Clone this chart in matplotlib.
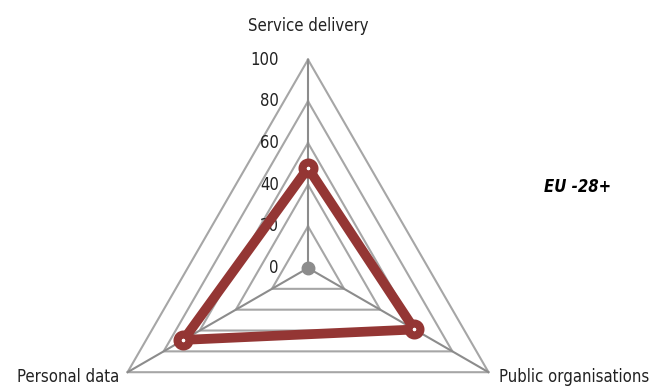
import numpy as np
import matplotlib
matplotlib.use("Agg")
from matplotlib import pyplot as plt

plt.rcParams['font.family'] = ['DejaVu Sans']
plt.rcParams['font.stretch'] = 'condensed'

categories = ["Service delivery", "Public organisations", "Personal data"]
values = [48, 59, 69]
ticks = [0, 20, 40, 60, 80, 100]
series_name = "EU -28+"

# angle of each axis, in degrees (top, lower right, lower left)
angles = np.deg2rad([90, -30, 210])

def xy(r):
    r = np.asarray(r, dtype=float)
    return r * np.cos(angles), r * np.sin(angles)

fig = plt.figure(figsize=(6.5, 3.87), dpi=100)
ax = fig.add_axes([0, 0, 1, 1])
ax.set_xlim(-147.8, 164.1)
ax.set_ylim(-57.1, 128.6)
ax.axis('off')

# grid triangles
for t in ticks[1:]:
    gx, gy = xy([t] * 3)
    ax.plot(np.append(gx, gx[0]), np.append(gy, gy[0]), color='#a6a6a6', lw=1.5, zorder=1)

# spokes
vx, vy = xy([100] * 3)
for i in range(3):
    ax.plot([0, vx[i]], [0, vy[i]], color='#8c8c8c', lw=1.5, zorder=2)
ax.plot([0], [0], 'o', color='#8c8c8c', ms=9, zorder=2)

txt = dict(fontsize=12, color='#222222', fontstretch='condensed')

# tick labels
for t in ticks:
    ax.text(-14, t, str(t), ha='right', va='center', **txt)

# category labels
ax.text(0, 116, categories[0], ha='center', va='center', **txt)
ax.text(vx[1] + 5, vy[1] - 2.5, categories[1], ha='left', va='center', **txt)
ax.text(vx[2] - 4, vy[2] - 2.5, categories[2], ha='right', va='center', **txt)

# data series
dx, dy = xy(values)
ax.plot(np.append(dx, dx[0]), np.append(dy, dy[0]), color='#943634', lw=7,
        solid_joinstyle='miter', zorder=3)
ax.plot(dx, dy, 'o', ms=8.6, mew=5.8, mec='#943634', mfc='white', zorder=4)

ax.text(113, 39, series_name, ha='left', va='center', fontsize=12,
        fontweight='bold', fontstyle='italic', fontstretch='condensed', color='black')

fig.savefig("out.png", dpi=100)
